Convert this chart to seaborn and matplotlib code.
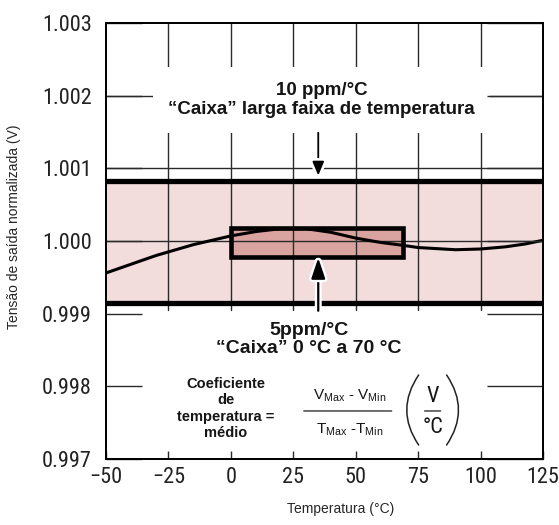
import numpy as np
import pandas as pd
import matplotlib
matplotlib.use("Agg")
import matplotlib.pyplot as plt
import matplotlib.patheffects as pe
from matplotlib.patches import Rectangle
from matplotlib import font_manager
import seaborn as sns

# ---------------- DATA ----------------
temp = [-50, -40, -30, -25, -15, -10, 0, 10, 20, 25, 30, 40, 50, 60, 69, 75, 90, 100, 110, 118, 125]
volt = [0.99956, 0.99968, 0.99980, 0.99985, 0.99995, 0.99999, 1.00007, 1.00013, 1.00017, 1.00017,
        1.00017, 1.00012, 1.00004, 0.99998, 0.99994, 0.99991, 0.99988, 0.99989, 0.99992, 0.99996, 1.00001]

xticks = [-50, -25, 0, 25, 50, 75, 100, 125]
yticks = [0.997, 0.998, 0.999, 1.000, 1.001, 1.002, 1.003]
ytick_labels = ['0.997', '0.998', '0.999', '1.000', '1.001', '1.002', '1.003']

wide_box = [0.99915, 1.00083]   # "caixa" 10 ppm/°C, -50..125 °C
small_t = [0, 69]               # "caixa" 5 ppm/°C, 0..70 °C
small_v = [0.99978, 1.00018]

arrow_x = 35

# ---------------- STYLE ----------------
sns.set_style("white")
plt.rcParams['font.family'] = ['Liberation Sans', 'DejaVu Sans']
plt.rcParams['mathtext.fontset'] = 'custom'
plt.rcParams['mathtext.rm'] = 'Liberation Sans'
plt.rcParams['mathtext.it'] = 'Liberation Sans'
plt.rcParams['mathtext.bf'] = 'Liberation Sans:bold'


# narrow font for the tick labels, if one is installed
def pick_narrow():
    best, best_score = None, 99
    prefs = ['Liberation Sans Narrow', 'Roboto Condensed', 'Noto Sans', 'Open Sans', 'DejaVu Sans', 'Roboto']
    for f in font_manager.fontManager.ttflist:
        if f.style != 'normal' or str(f.weight) not in ('400', 'normal', 'regular', 'book'):
            continue
        nm = f.name
        narrow = ('Narrow' in nm or 'Condensed' in nm or 'condensed' in str(f.stretch).lower()
                  or 'Condensed' in f.fname or 'Narrow' in f.fname)
        if not narrow or 'Extra' in f.fname or 'Ultra' in f.fname or 'Semi' in f.fname:
            continue
        score = 50
        for i, p in enumerate(prefs):
            if nm.startswith(p):
                score = i
                break
        if score < best_score:
            best, best_score = f.fname, score
    return best


narrow_path = pick_narrow()
if narrow_path:
    tick_fp = font_manager.FontProperties(fname=narrow_path, size=16)
    unit_fp = font_manager.FontProperties(fname=narrow_path, size=16)
else:
    tick_fp = font_manager.FontProperties(family='Liberation Sans', size=14)
    unit_fp = font_manager.FontProperties(family='Liberation Sans', size=14)

fig = plt.figure(figsize=(5.59, 5.25), dpi=100)
ax = fig.add_axes([0.1896, 0.1257, 0.7818, 0.8305])

ylim = (yticks[0], yticks[-1])
ax.set_xlim(xticks[0], xticks[-1])
ax.set_ylim(*ylim)

# wide band fill
ax.axhspan(wide_box[0], wide_box[1], color='#f2dcdc', lw=0, zorder=0.5)
# small box fill
ax.add_patch(Rectangle((small_t[0], small_v[0]), small_t[1] - small_t[0], small_v[1] - small_v[0],
                       facecolor='#d9a4a0', edgecolor='none', zorder=0.8))

# grid (only where the original shows it)
ymin_frac = (0.99905 - ylim[0]) / (ylim[1] - ylim[0])
for x in xticks[1:-1]:
    ax.axvline(x, ymin=ymin_frac, ymax=1, color='#2a2a2a', lw=1, zorder=1)
for y in yticks[3:6]:
    ax.axhline(y, color='#2a2a2a', lw=1, zorder=1)

# curve
df = pd.DataFrame({'temp': temp, 'volt': volt})
sns.lineplot(data=df, x='temp', y='volt', color='black', lw=2.2, ax=ax, zorder=3)

# box edges
ax.axhline(wide_box[0], color='black', lw=3.8, zorder=4)
ax.axhline(wide_box[1], color='black', lw=3.8, zorder=4)
ax.add_patch(Rectangle((small_t[0], small_v[0]), small_t[1] - small_t[0], small_v[1] - small_v[0],
                       facecolor='none', edgecolor='black', lw=3.3, zorder=4))

# arrows
halo = [pe.withStroke(linewidth=5, foreground='white')]
ax.annotate('', xy=(arrow_x, 1.00090), xytext=(arrow_x, 1.00149),
            arrowprops=dict(arrowstyle='-|>,head_length=0.6,head_width=0.25', color='black', lw=1.3,
                            mutation_scale=14, shrinkA=0, shrinkB=0, path_effects=halo), zorder=6)
ax.annotate('', xy=(arrow_x, 0.99977), xytext=(arrow_x, 0.99904),
            arrowprops=dict(arrowstyle='-|>,head_length=0.9,head_width=0.3', color='black', lw=1.6,
                            mutation_scale=14, shrinkA=0, shrinkB=0, path_effects=halo), zorder=6)

# texts
ax.text(36.4, 1.00194, '10 ppm/°C\n“Caixa” larga faixa de temperatura', ha='center', va='center',
        fontsize=13.5, fontweight='bold', linespacing=1.15, color='#151515',
        bbox=dict(boxstyle='square,pad=0.8', fc='white', ec='none'), zorder=5)
ax.text(31.2, 0.99864, '5ppm/°C\n“Caixa” 0 °C a 70 °C', ha='center', va='center',
        fontsize=14, fontweight='bold', linespacing=1.1, color='#151515', zorder=5)
ax.text(-2, 0.997695, 'Coeficiente\nde\ntemperatura =\nmédio', ha='center', va='center',
        fontsize=10.5, fontweight='bold', linespacing=1.2, color='#151515', zorder=5)

# formula: (Vmax - Vmin) / (Tmax - Tmin)
ax.text(47.5, 0.997865, r'V$_{Max}$ - V$_{Min}$', ha='center', va='center', fontsize=11, color='#151515')
ax.text(47.5, 0.997405, r'T$_{Max}$ -T$_{Min}$', ha='center', va='center', fontsize=11, color='#151515')
ax.annotate('', xy=(64.4, 0.997661), xytext=(29.2, 0.997661),
            arrowprops=dict(arrowstyle='-', color='#333', lw=1, shrinkA=0, shrinkB=0))

# unit (V / °C) in tall thin parentheses
unit_size = unit_fp.get_size_in_points()
ax.text(80.8, 0.99786, 'V', ha='center', va='center', fontproperties=unit_fp, fontsize=unit_size,
        color='#151515', zorder=6)
ax.text(80.8, 0.99744, '°C', ha='center', va='center', fontproperties=unit_fp, fontsize=unit_size,
        color='#151515', zorder=6)
ax.annotate('', xy=(84.0, 0.997661), xytext=(77.6, 0.997661),
            arrowprops=dict(arrowstyle='-', color='#333', lw=1, shrinkA=0, shrinkB=0))
ax.annotate('', xy=(75.2, 0.997193), xytext=(75.2, 0.998156),
            arrowprops=dict(arrowstyle='-', color='#222', lw=1.1, shrinkA=0, shrinkB=0,
                            connectionstyle='arc3,rad=0.34'))
ax.annotate('', xy=(86.4, 0.997193), xytext=(86.4, 0.998156),
            arrowprops=dict(arrowstyle='-', color='#222', lw=1.1, shrinkA=0, shrinkB=0,
                            connectionstyle='arc3,rad=-0.34'))

# axes labels
ax.set_xlabel('Temperatura (°C)', fontsize=10)
ax.set_ylabel('Tensão de saída normalizada (V)', fontsize=10)
ax.xaxis.set_label_coords(0.538, -0.099)
ax.yaxis.set_label_coords(-0.195, 0.532)

# ticks
ax.set_xticks(xticks)
ax.set_yticks(yticks)
ax.set_yticklabels(ytick_labels)
ax.tick_params(axis='y', direction='in', length=26, width=1, left=True, right=False,
               pad=10, color='#2a2a2a', labelcolor='#222')
ax.tick_params(axis='x', direction='in', length=6, width=1, bottom=True, top=False,
               pad=6, color='#2a2a2a', labelcolor='#222')
for lab in ax.get_xticklabels() + ax.get_yticklabels():
    lab.set_fontproperties(tick_fp)

# longer inward ticks on the right side
axr = ax.twinx()
axr.set_ylim(*ylim)
axr.set_yticks(yticks)
axr.tick_params(axis='y', direction='in', length=40, width=1, right=True, labelright=False,
                color='#2a2a2a')

for a in (ax, axr):
    for s in a.spines.values():
        s.set_color('black')
        s.set_linewidth(1.3)

fig.savefig('out.png', dpi=100)
